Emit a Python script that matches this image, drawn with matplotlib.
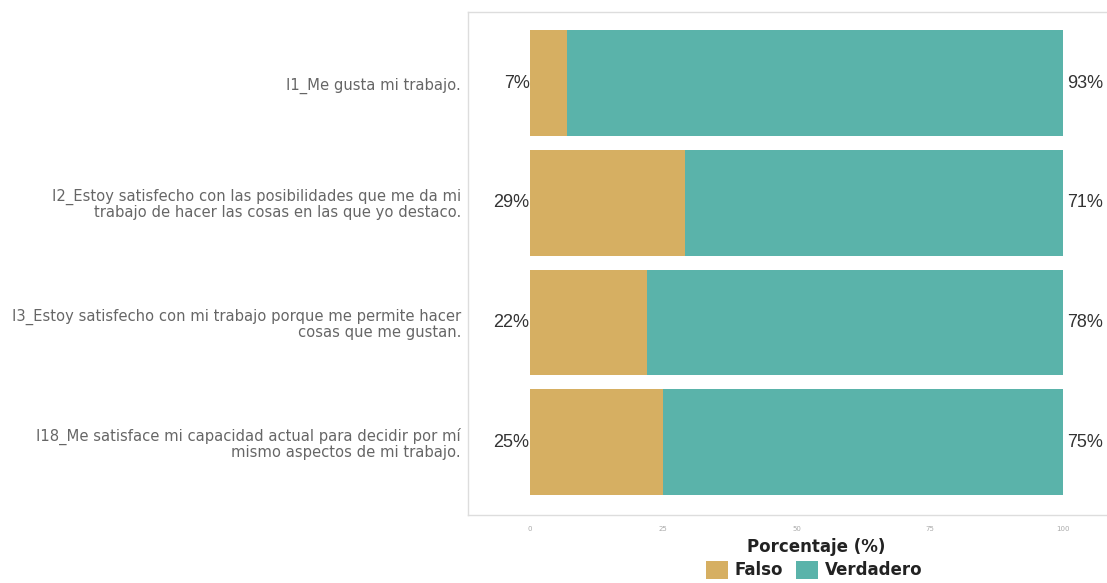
import matplotlib
matplotlib.use("Agg")
import matplotlib.pyplot as plt
from matplotlib.patches import Patch

categories = [
    "I1_Me gusta mi trabajo.",
    "I2_Estoy satisfecho con las posibilidades que me da mi\ntrabajo de hacer las cosas en las que yo destaco.",
    "I3_Estoy satisfecho con mi trabajo porque me permite hacer\ncosas que me gustan.",
    "I18_Me satisface mi capacidad actual para decidir por mí\nmismo aspectos de mi trabajo.",
]
falso = [7, 29, 22, 25]
verdadero = [93, 71, 78, 75]
xticks = [0, 25, 50, 75, 100]
series_names = ["Falso", "Verdadero"]
colors = ["#D6AF62", "#5AB3AA"]

fig = plt.figure(figsize=(11.07, 5.83), dpi=100)
ax = fig.add_axes([0.4228, 0.1166, 0.595, 0.8624])

y = list(range(len(categories)))
ax.barh(y, falso, height=0.885, color=colors[0])
ax.barh(y, verdadero, left=falso, height=0.885, color=colors[1])

for i in y:
    ax.text(-0.1, i, f"{falso[i]}%", ha="right", va="center",
            fontsize=13, color="#333333", family="Liberation Sans")
    ax.text(100.9, i, f"{verdadero[i]}%", ha="left", va="center",
            fontsize=13, color="#333333", family="Liberation Sans")

ax.set_xlim(-11.65, 112)
ax.set_ylim(3.61, -0.595)
ax.set_yticks(y)
ax.set_yticklabels(categories, fontsize=10.6, color="#666666",
                   family="DejaVu Sans", ha="right", linespacing=1.0)
ax.tick_params(axis="y", length=0, pad=5)
ax.set_xticks(xticks)
ax.set_xticklabels([str(t) for t in xticks], fontsize=5, color="#aaaaaa")
ax.tick_params(axis="x", length=0, pad=8)

for s in ax.spines.values():
    s.set_color("#dddddd")
    s.set_linewidth(1.0)

fig.text(816 / 1107, 1 - 547 / 583, "Porcentaje (%)",
         ha="center", va="center", fontsize=12, fontweight="bold",
         family="DejaVu Sans", color="#222222")

handles = [Patch(facecolor=c, edgecolor="none") for c in colors]
leg = fig.legend(handles, series_names, loc="center",
                 bbox_to_anchor=(814 / 1107, 1 - 570 / 583), ncol=2,
                 frameon=False, handlelength=1.3, handleheight=1.3,
                 handletextpad=0.4, columnspacing=0.8,
                 prop={"family": "DejaVu Sans", "weight": "bold", "size": 12})
for t in leg.get_texts():
    t.set_color("#222222")

fig.savefig("out.png", dpi=100)
